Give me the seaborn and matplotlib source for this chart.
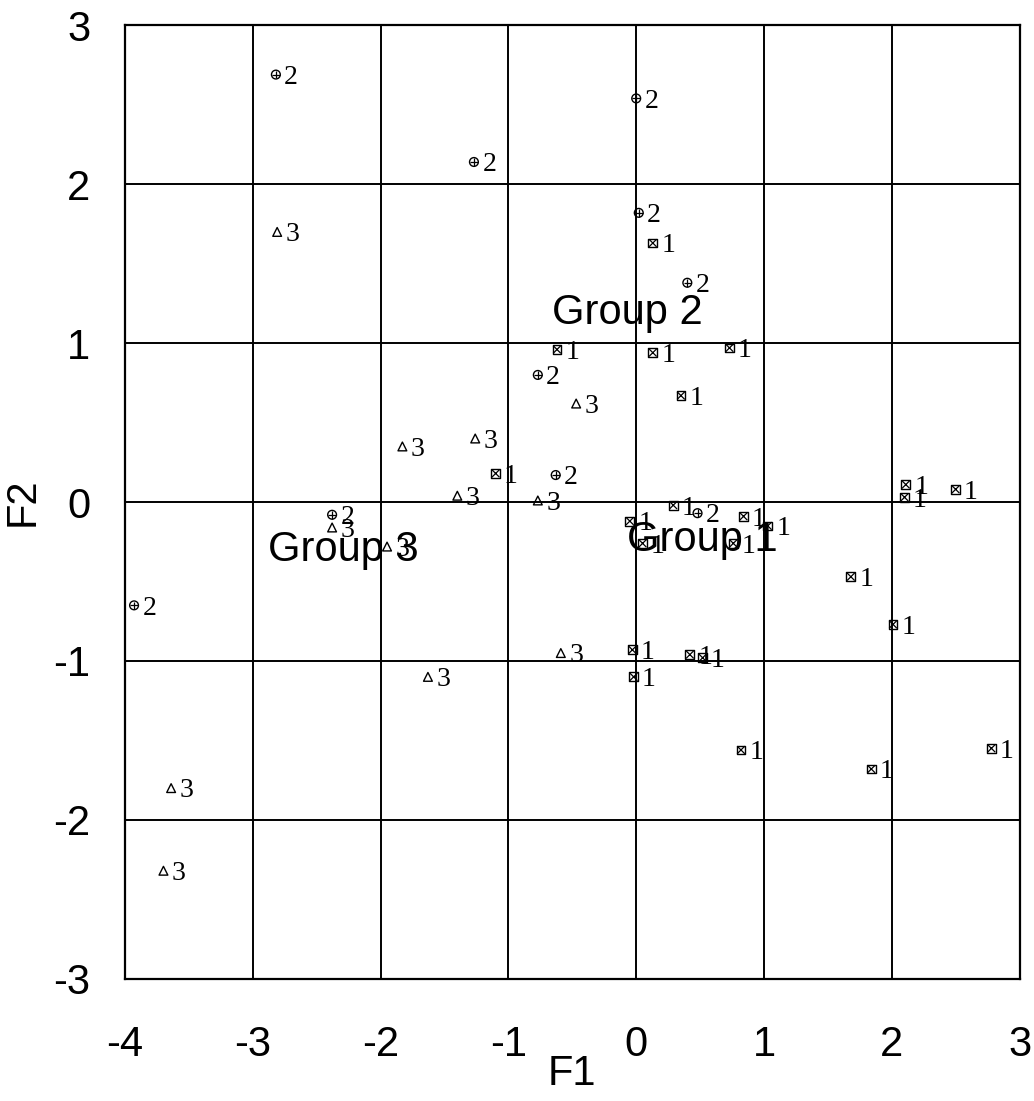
import matplotlib
matplotlib.use("Agg")
import matplotlib.pyplot as plt
import seaborn as sns
import pandas as pd

# ---- data ----
g1_f1 = [0.13, -0.62, 0.13, 0.73, 0.35, -1.10, 0.29, 0.84, 1.03, -0.05, 0.05, 0.76,
         2.11, 2.10, 2.50, 1.68, 2.01, -0.03, -0.02, 0.42, 0.52, 0.82, 1.84, 2.78]
g1_f2 = [1.63, 0.96, 0.94, 0.97, 0.67, 0.18, -0.02, -0.09, -0.15, -0.12, -0.26, -0.26,
         0.11, 0.03, 0.08, -0.47, -0.77, -0.93, -1.10, -0.96, -0.98, -1.56, -1.68, -1.55]

g2_f1 = [-2.82, 0.00, -1.27, 0.02, 0.40, -0.77, -0.63, -2.38, -3.93, 0.48]
g2_f2 = [2.69, 2.54, 2.14, 1.82, 1.38, 0.80, 0.17, -0.08, -0.65, -0.07]

g3_f1 = [-2.81, -0.47, -1.83, -1.26, -1.40, -0.77, -2.38, -1.95, -0.59, -1.63, -3.64, -3.70]
g3_f2 = [1.70, 0.62, 0.35, 0.40, 0.04, 0.01, -0.16, -0.28, -0.95, -1.10, -1.80, -2.32]

centroid_names = ["Group 1", "Group 2", "Group 3"]
centroid_f1 = [0.52, -0.07, -2.29]
centroid_f2 = [-0.24, 1.19, -0.30]

x_ticks = [-4, -3, -2, -1, 0, 1, 2, 3]
y_ticks = [-3, -2, -1, 0, 1, 2, 3]

df = pd.DataFrame({
    "F1": g1_f1 + g2_f1 + g3_f1,
    "F2": g1_f2 + g2_f2 + g3_f2,
    "group": ["1"] * len(g1_f1) + ["2"] * len(g2_f1) + ["3"] * len(g3_f1),
})

sns.set_theme(style="white")
plt.rcParams["font.family"] = ["Liberation Sans", "DejaVu Sans"]

fig = plt.figure(figsize=(10.34, 11.01), dpi=100)
ax = fig.add_axes([0.121, 0.111, 0.865, 0.866])

# base shapes
sns.scatterplot(data=df, x="F1", y="F2", style="group",
                markers={"1": "s", "2": "o", "3": "^"},
                s=40, facecolor="none", edgecolor="black", linewidth=1.0,
                legend=False, ax=ax, zorder=3)
# inner crosses for groups 1 and 2
inner = df[df["group"].isin(["1", "2"])]
sns.scatterplot(data=inner, x="F1", y="F2", style="group",
                markers={"1": "x", "2": "+"},
                s=30, color="black", linewidth=0.9,
                legend=False, ax=ax, zorder=4)

# point labels
for x, y, g in zip(df["F1"], df["F2"], df["group"]):
    ax.annotate(g, (x, y), xytext=(6, -2), textcoords="offset points",
                va="center", ha="left", fontsize=20,
                family=["Liberation Serif", "DejaVu Serif"], color="black", zorder=5)

# centroid labels
for name, x, y in zip(centroid_names, centroid_f1, centroid_f2):
    ax.text(x, y, name, ha="center", va="center", fontsize=30, color="black", zorder=6)

ax.set_xlim(-4, 3)
ax.set_ylim(-3, 3)
ax.set_xticks(x_ticks)
ax.set_yticks(y_ticks)
ax.set_xticklabels([str(t) for t in x_ticks])
ax.set_yticklabels([str(t) for t in y_ticks])
ax.grid(True, color="black", linewidth=1.4)
ax.set_axisbelow(True)
for sp in ax.spines.values():
    sp.set_color("black")
    sp.set_linewidth(1.6)
ax.tick_params(axis="both", length=0, labelsize=30, colors="black")
ax.tick_params(axis="x", pad=33)
ax.tick_params(axis="y", pad=25)
ax.set_xlabel("F1", fontsize=30, labelpad=-8, color="black")
ax.set_ylabel("F2", fontsize=30, labelpad=8, color="black")

fig.savefig("out.png", dpi=100, facecolor="white")
